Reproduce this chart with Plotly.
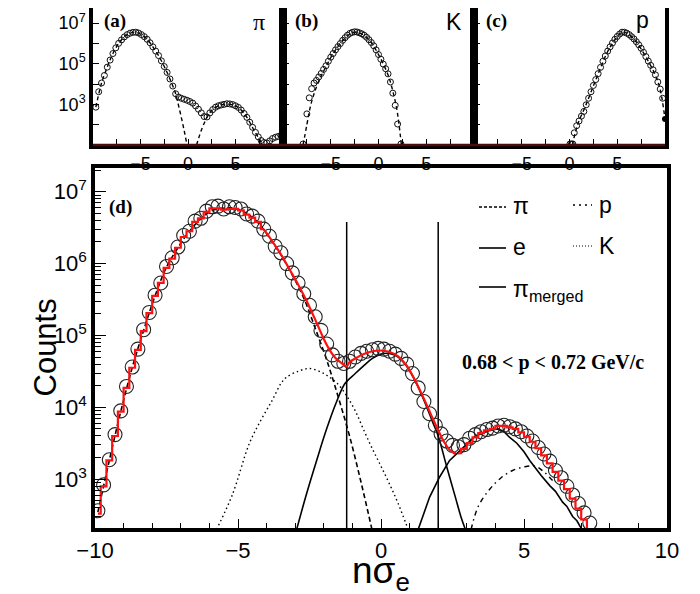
import math
import plotly.graph_objects as go

W, H = 692, 586          # figure size (the page body adds an 8 px margin)
OFF = 8

# ---------------- panel (d) : data (log10 of counts) ----------------
d_x = [-9.9, -9.7, -9.5, -9.3, -9.1, -8.9, -8.7, -8.5, -8.3, -8.1,
       -7.9, -7.7, -7.5, -7.3, -7.1, -6.9, -6.7, -6.5, -6.3, -6.1,
       -5.9, -5.7, -5.5, -5.3, -5.1, -4.9, -4.7, -4.5, -4.3, -4.1,
       -3.9, -3.7, -3.5, -3.3, -3.1, -2.9, -2.7, -2.5, -2.3, -2.1,
       -1.9, -1.7, -1.5, -1.3, -1.1, -0.9, -0.7, -0.5, -0.3, -0.1,
       0.1, 0.3, 0.5, 0.7, 0.9, 1.1, 1.3, 1.5, 1.7, 1.9,
       2.1, 2.3, 2.5, 2.7, 2.9, 3.1, 3.3, 3.5, 3.7, 3.9,
       4.1, 4.3, 4.5, 4.7, 4.9, 5.1, 5.3, 5.5, 5.7, 5.9,
       6.1, 6.3, 6.5, 6.7, 6.9, 7.1, 7.3]
d_log = [2.56, 2.92, 3.27, 3.62, 3.95, 4.29, 4.56, 4.81, 5.08, 5.32,
         5.56, 5.73, 5.96, 6.08, 6.23, 6.39, 6.45, 6.59, 6.63, 6.73,
         6.79, 6.80, 6.76, 6.79, 6.78, 6.76, 6.69, 6.66, 6.59, 6.48,
         6.38, 6.24, 6.15, 6.00, 5.87, 5.73, 5.58, 5.42, 5.26, 5.07,
         4.88, 4.73, 4.64, 4.61, 4.64, 4.70, 4.75, 4.78, 4.80, 4.82,
         4.81, 4.78, 4.74, 4.68, 4.60, 4.47, 4.27, 4.08, 3.91, 3.75,
         3.63, 3.53, 3.47, 3.45, 3.48, 3.57, 3.62, 3.66, 3.69, 3.71,
         3.74, 3.75, 3.73, 3.70, 3.66, 3.60, 3.53, 3.44, 3.35, 3.25,
         3.12, 3.02, 2.90, 2.78, 2.66, 2.53, 2.39]

# total fit (red): left histogram part, smooth middle part, right histogram part
fitL_x = [-9.9, -9.7, -9.5, -9.3, -9.1, -8.9, -8.7, -8.5, -8.3, -8.1,
          -7.9, -7.7, -7.5, -7.3, -7.1, -6.9, -6.7, -6.5, -6.3, -6.1,
          -5.9, -5.7, -5.5, -5.3, -5.1, -4.9, -4.7, -4.5, -4.3, -4.1]
fitL_log = [2.52, 2.90, 3.26, 3.60, 3.94, 4.27, 4.55, 4.80, 5.06, 5.31,
            5.55, 5.73, 5.94, 6.07, 6.22, 6.37, 6.45, 6.58, 6.63, 6.72,
            6.77, 6.77, 6.75, 6.76, 6.76, 6.74, 6.68, 6.64, 6.58, 6.48]
fitM_x = [-4.1, -3.8, -3.5, -3.2, -2.9, -2.6, -2.3, -2.0, -1.8, -1.6, -1.4,
          -1.2, -1.1, -0.9, -0.6, -0.3, 0.0, 0.3, 0.6, 0.9, 1.2, 1.5,
          1.8, 2.0, 2.2, 2.4, 2.6]
fitM_log = [6.48, 6.31, 6.13, 5.92, 5.71, 5.48, 5.22, 4.95, 4.80, 4.69, 4.62,
            4.57, 4.63, 4.68, 4.74, 4.78, 4.79, 4.77, 4.71, 4.58, 4.37, 4.12,
            3.85, 3.68, 3.52, 3.41, 3.35]
fitR_x = [2.7, 2.9, 3.1, 3.3, 3.5, 3.7, 3.9, 4.1, 4.3, 4.5, 4.7, 4.9,
          5.1, 5.3, 5.5, 5.7, 5.9, 6.1, 6.3, 6.5, 6.7, 6.9, 7.1, 7.3, 7.4]
fitR_log = [3.36, 3.42, 3.50, 3.58, 3.64, 3.68, 3.70, 3.74, 3.74, 3.72, 3.70, 3.65,
            3.59, 3.52, 3.43, 3.33, 3.22, 3.10, 2.98, 2.86, 2.73, 2.59, 2.44, 2.28, 2.0]

# components
pi_x = [-9.9, -9.5, -9.1, -8.7, -8.3, -7.9, -7.5, -7.1, -6.7, -6.3, -5.9, -5.5,
        -5.1, -4.7, -4.3, -3.9, -3.5, -3.1, -2.7, -2.3, -1.9, -1.5, -1.1, -0.7, -0.35, -0.2]
pi_log = [2.54, 3.26, 3.94, 4.55, 5.07, 5.55, 5.95, 6.22, 6.45, 6.62, 6.74, 6.77,
          6.77, 6.70, 6.57, 6.36, 6.12, 5.84, 5.52, 5.10, 4.66, 4.15, 3.60, 2.96, 2.36, 2.1]
k_x = [-5.75, -5.2, -4.6, -4.2, -3.8, -3.5, -3.3, -2.9, -2.5, -2.1, -1.8, -1.5,
       -1.2, -0.9, -0.6, -0.3, 0.0, 0.3, 0.6, 0.95]
k_log = [2.30, 2.78, 3.50, 3.82, 4.10, 4.33, 4.42, 4.50, 4.54, 4.49, 4.42, 4.32,
         4.16, 3.95, 3.68, 3.42, 3.18, 2.93, 2.66, 2.30]
e_x = [-2.95, -2.6, -2.25, -1.9, -1.55, -1.26, -0.9, -0.6, -0.3, 0.0, 0.3, 0.6,
       0.9, 1.2, 1.5, 1.8, 2.0, 2.3, 2.6, 2.8, 2.97]
e_log = [2.30, 2.80, 3.26, 3.70, 4.08, 4.33, 4.47, 4.58, 4.68, 4.74, 4.75, 4.70,
         4.57, 4.36, 4.10, 3.80, 3.60, 3.17, 2.75, 2.47, 2.28]
pim_x = [1.3, 1.7, 2.05, 2.4, 2.9, 3.3, 3.8, 4.1, 4.3, 4.5, 4.75, 5.0, 5.2,
         5.4, 5.6, 5.9, 6.1, 6.35, 6.5, 6.7, 6.85, 7.05]
pim_log = [2.30, 2.75, 3.03, 3.26, 3.45, 3.60, 3.68, 3.70, 3.66, 3.58, 3.50, 3.38, 3.26,
           3.15, 3.05, 2.91, 2.83, 2.68, 2.62, 2.48, 2.42, 2.28]
p_x = [3.15, 3.4, 3.8, 4.2, 4.6, 5.0, 5.4, 5.7, 6.0]
p_log = [2.30, 2.62, 2.86, 3.02, 3.12, 3.17, 3.18, 3.10, 2.98]

cut_x = [-1.2, 2.0]
cut_top = 3.8e6

# ---------------- panel (a) : pi ----------------
a_x = [-9.7, -9.4, -9.1, -8.8, -8.5, -8.2, -7.9, -7.6, -7.3, -7.0, -6.7, -6.4,
       -6.1, -5.8, -5.5, -5.2, -4.9, -4.6, -4.3, -4.0, -3.7, -3.4, -3.1, -2.8,
       -2.5, -2.2, -1.9, -1.6, -1.3, -1.0, -0.7, -0.4, -0.1, 0.2, 0.5, 0.8,
       1.1, 1.4, 1.7, 2.0, 2.3, 2.6, 2.9, 3.2, 3.5, 3.8, 4.1, 4.4,
       4.7, 5.0, 5.3, 5.6, 5.9, 6.2, 6.5, 6.8, 7.1, 7.4, 7.7, 8.0,
       8.3, 8.6, 8.9, 9.2, 9.5, 9.8]
a_log = [2.86, 3.62, 4.05, 4.42, 4.83, 5.18, 5.50, 5.78, 6.00, 6.17, 6.32, 6.43,
         6.50, 6.54, 6.55, 6.51, 6.43, 6.33, 6.20, 6.03, 5.83, 5.62, 5.40, 5.14,
         4.86, 4.57, 4.25, 3.90, 3.52, 3.36, 3.30, 3.25, 3.20, 3.14, 3.06, 2.92,
         2.76, 2.58, 2.40, 2.38, 2.58, 2.74, 2.86, 2.93, 2.97, 3.00, 3.03, 3.02,
         2.99, 2.93, 2.85, 2.72, 2.55, 2.36, 2.12, 1.87, 1.62, 1.40, 1.22, 1.12,
         1.10, 1.20, 1.32, 1.38, 1.42, 1.48]
afit1_x = [-9.7, -9.1, -8.5, -7.9, -7.3, -6.7, -6.1, -5.5, -4.9, -4.3, -3.7, -3.1,
           -2.5, -1.9, -1.3, -1.0, -0.7, -0.4, -0.1]
afit1_log = [2.86, 4.05, 4.83, 5.50, 6.00, 6.32, 6.50, 6.55, 6.43, 6.20, 5.83, 5.40,
             4.86, 4.25, 3.52, 2.95, 2.35, 1.70, 1.0]
afit2_x = [0.9, 1.2, 1.5, 1.8, 2.1, 2.5, 3.0, 3.5, 4.0, 4.5, 5.0, 5.5, 6.0, 6.5, 7.0, 7.5, 7.9]
afit2_log = [1.0, 1.45, 1.85, 2.17, 2.45, 2.70, 2.88, 2.97, 3.01, 3.00, 2.92, 2.76,
             2.50, 2.12, 1.68, 1.30, 1.0]

# ---------------- panel (b) : K ----------------
b_x = [-7.9, -7.5, -7.25, -7.0, -6.75, -6.5, -6.25, -6.0, -5.75, -5.5, -5.25, -5.0,
       -4.75, -4.5, -4.25, -4.0, -3.75, -3.5, -3.25, -3.0, -2.75, -2.5, -2.25,
       -2.0, -1.75, -1.5, -1.25, -1.0, -0.75, -0.5, -0.25, 0.0, 0.25, 0.5,
       0.75, 1.0, 1.25, 1.5, 1.75, 2.0, 2.35]
b_log = [1.05, 2.53, 3.32, 3.77, 4.05, 4.18, 4.35, 4.52, 4.72, 4.90, 5.12, 5.32,
         5.50, 5.68, 5.84, 5.99, 6.15, 6.28, 6.40, 6.49, 6.54, 6.57, 6.56,
         6.52, 6.47, 6.40, 6.30, 6.18, 6.04, 5.88, 5.68, 5.45, 5.22, 4.98,
         4.75, 4.50, 4.10, 3.55, 2.95, 2.03, 1.05]
bfit_x = [-7.9, -7.5, -7.2, -6.9, -6.5, -6.0, -5.5, -5.0, -4.0, -3.0, -2.5, -2.0,
          -1.0, 0.0, 1.0, 1.5, 1.9, 2.15, 2.4]
bfit_log = [1.0, 2.0, 2.75, 3.30, 3.85, 4.40, 4.85, 5.30, 6.00, 6.46, 6.55, 6.52,
            6.18, 5.45, 4.45, 3.65, 2.80, 2.0, 1.0]

# ---------------- panel (c) : p ----------------
c_x = [0.05, 0.2, 0.35, 0.5, 0.75, 1.0, 1.25, 1.5, 1.75, 2.0, 2.25, 2.5, 2.75,
       3.0, 3.25, 3.5, 3.75, 4.0, 4.25, 4.5, 4.75, 5.0, 5.25, 5.5, 5.75,
       6.0, 6.25, 6.5, 6.75, 7.0, 7.25, 7.5, 7.75, 8.0, 8.25, 8.5, 8.75,
       9.0, 9.25, 9.5, 9.75]
c_log = [1.05, 1.05, 1.05, 1.60, 1.95, 2.18, 2.42, 2.65, 2.98, 3.30, 3.62, 3.93, 4.22,
         4.51, 4.82, 5.12, 5.38, 5.62, 5.83, 6.02, 6.20, 6.34, 6.46, 6.55, 6.55,
         6.50, 6.43, 6.33, 6.22, 6.08, 5.93, 5.76, 5.56, 5.35, 5.13, 4.92, 4.70,
         4.45, 4.10, 3.75, 3.30]
cfit_x = [0.3, 0.6, 1.0, 1.5, 2.0, 3.0, 4.0, 5.0, 5.5, 6.0, 7.0, 8.0, 9.0, 9.5, 10.0]
cfit_log = [1.0, 1.60, 2.20, 2.72, 3.30, 4.50, 5.60, 6.33, 6.55, 6.50, 6.07, 5.33,
            4.42, 3.72, 2.28]
c_end_x = [10.0]
c_end_log = [2.28]

# tick labels
main_x_ticks = [-10, -5, 0, 5, 10]
main_y_ticks = [1e3, 1e4, 1e5, 1e6, 1e7]
top_x_ticks = [-5, 0, 5]
top_y_ticks = [1e3, 1e5, 1e7]


def cnt(logs):
    return [10 ** v for v in logs]


def px(x):
    return min(1.0, max(0.0, (x - OFF) / W))


def py(y):
    return min(1.0, max(0.0, 1 - (y - OFF) / H))


fig = go.Figure()

# ---- panel (d) traces ----
fig.add_trace(go.Scatter(x=pi_x, y=cnt(pi_log), mode="lines", line=dict(color="black", width=1.6, dash="5px,3px"),
                         line_shape="spline", xaxis="x", yaxis="y"))
fig.add_trace(go.Scatter(x=k_x, y=cnt(k_log), mode="lines", line=dict(color="black", width=1.4, dash="1.5px,3px"),
                         line_shape="spline", xaxis="x", yaxis="y"))
fig.add_trace(go.Scatter(x=e_x, y=cnt(e_log), mode="lines", line=dict(color="black", width=1.6),
                         line_shape="spline", xaxis="x", yaxis="y"))
fig.add_trace(go.Scatter(x=pim_x, y=cnt(pim_log), mode="lines", line=dict(color="black", width=1.6),
                         xaxis="x", yaxis="y"))
fig.add_trace(go.Scatter(x=p_x, y=cnt(p_log), mode="lines", line=dict(color="black", width=1.4, dash="5px,4px,1.5px,4px"),
                         line_shape="spline", xaxis="x", yaxis="y"))
for cx in cut_x:
    fig.add_trace(go.Scatter(x=[cx, cx], y=[10, cut_top], mode="lines", line=dict(color="black", width=1.5),
                             xaxis="x", yaxis="y"))
fig.add_trace(go.Scatter(x=d_x, y=cnt(d_log), mode="markers",
                         marker=dict(symbol="circle-open", size=14, color="#222", line=dict(width=1.1)),
                         xaxis="x", yaxis="y"))
fig.add_trace(go.Scatter(x=fitL_x, y=cnt(fitL_log), mode="lines", line=dict(color="#ff1010", width=2.2),
                         line_shape="hvh", xaxis="x", yaxis="y"))
fig.add_trace(go.Scatter(x=fitM_x, y=cnt(fitM_log), mode="lines", line=dict(color="#ff1010", width=2.2, smoothing=0.6),
                         line_shape="spline", xaxis="x", yaxis="y"))
fig.add_trace(go.Scatter(x=fitR_x, y=cnt(fitR_log), mode="lines", line=dict(color="#ff1010", width=2.2),
                         line_shape="hvh", xaxis="x", yaxis="y"))

# ---- top panels ----
small_marker = dict(symbol="circle-open", size=6, color="#111", line=dict(width=1))
fig.add_trace(go.Scatter(x=afit1_x, y=cnt(afit1_log), mode="lines", line=dict(color="black", width=1.4, dash="4px,3px"),
                         line_shape="spline", xaxis="x2", yaxis="y2"))
fig.add_trace(go.Scatter(x=afit2_x, y=cnt(afit2_log), mode="lines", line=dict(color="black", width=1.4, dash="4px,3px"),
                         line_shape="spline", xaxis="x2", yaxis="y2"))
fig.add_trace(go.Scatter(x=a_x, y=cnt(a_log), mode="markers", marker=small_marker, xaxis="x2", yaxis="y2"))

fig.add_trace(go.Scatter(x=bfit_x, y=cnt(bfit_log), mode="lines", line=dict(color="black", width=1.4, dash="4px,3px"),
                         line_shape="spline", xaxis="x3", yaxis="y3"))
fig.add_trace(go.Scatter(x=b_x, y=cnt(b_log), mode="markers", marker=small_marker, xaxis="x3", yaxis="y3"))

fig.add_trace(go.Scatter(x=cfit_x, y=cnt(cfit_log), mode="lines", line=dict(color="black", width=1.4, dash="4px,3px"),
                         line_shape="spline", xaxis="x4", yaxis="y4"))
fig.add_trace(go.Scatter(x=c_x, y=cnt(c_log), mode="markers", marker=small_marker, xaxis="x4", yaxis="y4"))
fig.add_trace(go.Scatter(x=c_end_x, y=cnt(c_end_log), mode="markers", marker=dict(symbol="circle", size=6, color="black"),
                         xaxis="x4", yaxis="y4", cliponaxis=False))

FONT = "Liberation Sans, Arial, sans-serif"
SERIF = "Liberation Serif, Times New Roman, serif"

main_dom_x = [px(95), px(667)]
main_dom_y = [py(528), py(168)]
top_dom_y = [py(145), py(8)]
top_doms = [[px(93), px(283)], [px(283), px(474)], [px(474), px(665)]]


def sup(v):
    return "10<sup>%d</sup>" % round(math.log10(v))


def minus(v):
    return ("\u2212%g" % -v) if v < 0 else "%g" % v


# minor tick positions on the log axes (2..9 per decade) and on the top log axes (even decades)
main_minor = [m * 10 ** e for e in range(2, 8) for m in range(2, 10)]
top_minor = [1e2, 1e4, 1e6]

layout = dict(
    width=W, height=H, margin=dict(l=0, r=0, t=0, b=0, autoexpand=False),
    paper_bgcolor="white", plot_bgcolor="white", showlegend=False,
    font=dict(family=FONT, color="black"),
    xaxis=dict(domain=main_dom_x, anchor="y", range=[-10, 10], showgrid=False, zeroline=False, automargin=False,
               showline=True, mirror=True, linewidth=3.5, linecolor="black",
               tickvals=main_x_ticks, ticktext=[minus(v) for v in main_x_ticks],
               ticks="inside", ticklen=9, tickwidth=1.2, tickcolor="black",
               minor=dict(dtick=1, ticks="inside", ticklen=5, tickcolor="black", tickwidth=1),
               tickfont=dict(size=22, family=FONT)),
    yaxis=dict(domain=main_dom_y, anchor="x", type="log", range=[2.32, 7.33], showgrid=False, zeroline=False,
               automargin=False,
               showline=True, mirror=True, linewidth=3.5, linecolor="black",
               tickvals=main_y_ticks, ticktext=[sup(v) for v in main_y_ticks],
               ticks="inside", ticklen=11, tickwidth=1.2, tickcolor="black",
               minor=dict(tickvals=main_minor, ticks="inside", ticklen=6, tickcolor="black", tickwidth=1),
               tickfont=dict(size=22, family=FONT)),
)
for i, dom in enumerate(top_doms):
    n = i + 2
    layout["xaxis%d" % n] = dict(domain=dom, anchor="y%d" % n, range=[-10, 10], showgrid=False, zeroline=False,
                                 automargin=False,
                                 showline=True, mirror=True, linewidth=3.5, linecolor="black",
                                 tickvals=top_x_ticks, ticktext=[minus(v) for v in top_x_ticks],
                                 ticks="inside", ticklen=6, tickwidth=1, tickcolor="black",
                                 minor=dict(tickvals=[-7.5, -2.5, 2.5, 7.5], ticks="inside", ticklen=6,
                                            tickcolor="black", tickwidth=1),
                                 tickfont=dict(size=18, family=FONT))
    ydict = dict(domain=top_dom_y, anchor="x%d" % n, type="log", range=[1.0, 7.74],
                 showgrid=False, zeroline=False, automargin=False,
                 showline=True, mirror=True, linewidth=3.5, linecolor="black",
                 tickvals=top_y_ticks, ticktext=[sup(v) for v in top_y_ticks],
                 ticks="inside", ticklen=6, tickwidth=1, tickcolor="black",
                 minor=dict(tickvals=top_minor, ticks="inside", ticklen=6, tickcolor="black", tickwidth=1),
                 tickfont=dict(size=18, family=FONT))
    if i > 0:
        ydict["showticklabels"] = False
    layout["yaxis%d" % n] = ydict
fig.update_layout(**layout)

ann = []


def text(x, y, s, size, family=FONT, xanchor="center", bold=False, color="black"):
    ann.append(dict(x=px(x), y=py(y), xref="paper", yref="paper", text=("<b>%s</b>" % s) if bold else s,
                    showarrow=False, xanchor=xanchor, yanchor="middle",
                    font=dict(size=size, family=family, color=color)))


# axis titles
ann.append(dict(x=px(25), y=py(348), xref="paper", yref="paper", text="Counts", showarrow=False,
                textangle=-90, font=dict(size=31, family=FONT)))
text(381, 573, "nσ<sub>e</sub>", 37)
# panel labels
text(115, 21, "(a)", 19, SERIF, bold=True)
text(306, 21, "(b)", 19, SERIF, bold=True)
text(496, 21, "(c)", 19, SERIF, bold=True)
text(121, 207, "(d)", 19, SERIF, bold=True)
text(259, 22, "π", 24, SERIF)
text(454, 22, "K", 23)
text(642, 20, "p", 23)
# legend
text(511, 206, "π", 23, xanchor="left")
text(597, 205, "p", 23, xanchor="left")
text(511, 247, "e", 23, xanchor="left")
text(597, 246, "K", 23, xanchor="left")
text(511, 290, "π<sub>merged</sub>", 23, xanchor="left")
text(553, 362, "0.68 &lt; p &lt; 0.72 GeV/c", 20, SERIF, bold=True)
fig.update_layout(annotations=ann)

shapes = [
    dict(type="line", xref="paper", yref="paper", x0=px(479), x1=px(506), y0=py(207), y1=py(207),
         line=dict(color="black", width=1.5, dash="3px,2px")),
    dict(type="line", xref="paper", yref="paper", x0=px(573), x1=px(592), y0=py(205), y1=py(205),
         line=dict(color="black", width=1.3, dash="2px,4px")),
    dict(type="line", xref="paper", yref="paper", x0=px(479), x1=px(506), y0=py(248), y1=py(248),
         line=dict(color="black", width=1.6)),
    dict(type="line", xref="paper", yref="paper", x0=px(573), x1=px(593), y0=py(246), y1=py(246),
         line=dict(color="black", width=1.2, dash="1px,2px")),
    dict(type="line", xref="paper", yref="paper", x0=px(479), x1=px(506), y0=py(287), y1=py(287),
         line=dict(color="black", width=1.6)),
]
for dom in top_doms:
    shapes.append(dict(type="line", xref="paper", yref="paper", x0=dom[0], x1=dom[1], y0=py(145), y1=py(145),
                       line=dict(color="#4a0c0c", width=2.5), layer="above"))
fig.update_layout(shapes=shapes)

fig.write_html("out.html")
